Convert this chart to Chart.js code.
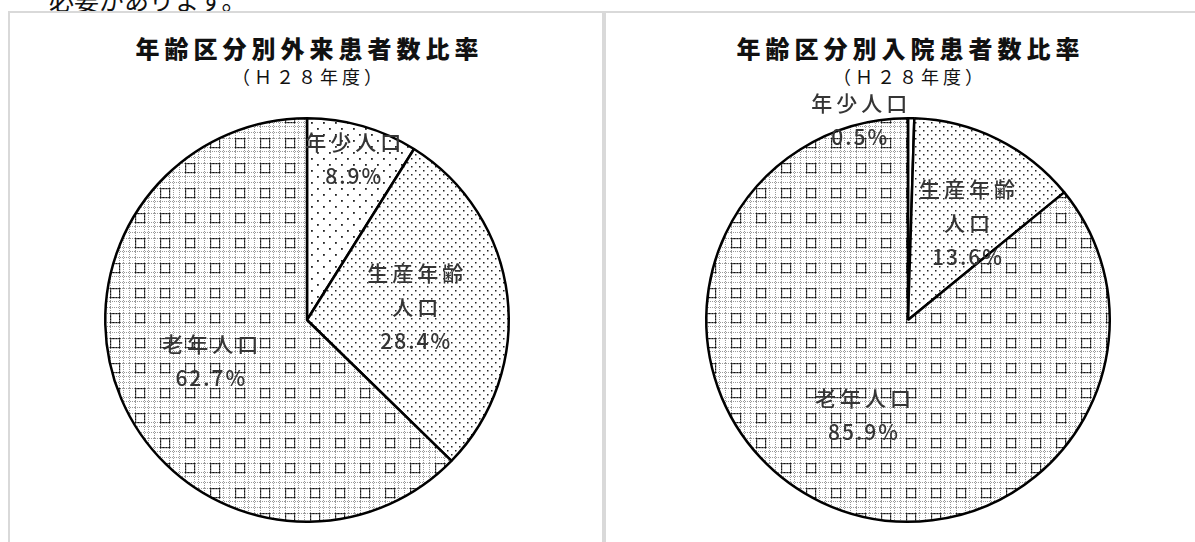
<!DOCTYPE html>
<html lang="ja">
<head>
<meta charset="utf-8">
<title>年齢区分別患者数比率</title>
<script src="https://cdn.jsdelivr.net/npm/chart.js@4.4.1/dist/chart.umd.min.js"></script>
<style>
  html, body { margin: 0; padding: 0; }
  body {
    width: 1195px; height: 542px; overflow: hidden; position: relative;
    background: #fff; font-family: "Noto Sans CJK JP", sans-serif; color: #111;
  }
  .lead { position: absolute; left: 49px; top: -13px; font-size: 25px; line-height: 25px; white-space: nowrap; }
  .panel { position: absolute; top: 11px; height: 545px; box-sizing: border-box; border: 2px solid #d9d9d9; border-bottom: none; }
  #panel-outpatient { left: 8px; width: 596px; }
  #panel-inpatient { left: 604px; width: 600px; }
  .chart-title {
    position: absolute; top: 35px; width: 600px; text-align: center; white-space: nowrap;
    font-size: 24px; font-weight: 900; line-height: 26px; letter-spacing: 5px; text-indent: 5px;
  }
  .chart-subtitle {
    position: absolute; top: 65px; width: 600px; text-align: center; white-space: nowrap;
    font-size: 18px; line-height: 22px; letter-spacing: 4px; text-indent: 4px;
  }
  canvas { position: absolute; top: 13px; }
</style>
</head>
<body>
<div class="lead">必要があります。</div>
<div class="panel" id="panel-outpatient"></div>
<div class="panel" id="panel-inpatient"></div>

<div class="chart-title" style="left:7px">年齢区分別外来患者数比率</div>
<div class="chart-subtitle" style="left:7px">（Ｈ２８年度）</div>
<canvas id="outpatient-chart" width="592" height="529" style="left:10px"></canvas>

<div class="chart-title" style="left:608px">年齢区分別入院患者数比率</div>
<div class="chart-subtitle" style="left:608px">（Ｈ２８年度）</div>
<canvas id="inpatient-chart" width="590" height="529" style="left:606px"></canvas>

<script>
// 年齢区分（年少・生産年齢・老年）ごとの患者数比率, H28年度
const ageGroups = ['年少人口', '生産年齢人口', '老年人口'];
const outpatientShares = [8.9, 28.4, 62.7];
const inpatientShares = [0.5, 13.6, 85.9];

document.addEventListener('DOMContentLoaded', () => {

    // monochrome hatch fills, one per age group
    const makePattern = (size, draw) => {
        const tile = document.createElement('canvas');
        tile.width = tile.height = size;
        const t = tile.getContext('2d');
        t.fillStyle = '#fff';
        t.fillRect(0, 0, size, size);
        draw(t);
        return t.createPattern(tile, 'repeat');
    };

    const sparseDots = makePattern(12, t => {
        t.fillStyle = '#222';
        t.fillRect(1, 1, 1.8, 1.8);
        t.fillRect(7, 7, 1.8, 1.8);
    });

    const denseDots = makePattern(8, t => {
        t.fillStyle = '#222';
        t.fillRect(1, 1, 1.5, 1.5);
        t.fillRect(5, 5, 1.5, 1.5);
    });

    // small dotted squares sitting on a lighter dotted grid
    const dottedGrid = makePattern(25, t => {
        t.fillStyle = '#9a9a9a';
        [0, 9, 13, 19].forEach(pos => {
            for (let i = 0; i < 25; i += 2) {
                t.fillRect(i, pos, 1, 1);
                t.fillRect(pos, i, 1, 1);
            }
        });
        t.fillStyle = '#111';
        for (let i = 0; i <= 9; i += 1.5) {
            t.fillRect(i, 0, 1.2, 1.2);
            t.fillRect(i, 9, 1.2, 1.2);
            t.fillRect(0, i, 1.2, 1.2);
            t.fillRect(9, i, 1.2, 1.2);
        }
    });

    const fills = [sparseDots, denseDots, dottedGrid];

    // writes the group name (4 chars per line) and its share inside / beside each slice
    const sliceLabels = (placement) => ({
        id: 'sliceLabels',
        afterDatasetsDraw(chart) {
            const ctx = chart.ctx;
            const meta = chart.getDatasetMeta(0);
            const values = chart.data.datasets[0].data;
            ctx.save();
            ctx.font = '500 21px "Noto Sans CJK JP"';
            ctx.fillStyle = '#353535';
            ctx.textAlign = 'center';
            ctx.textBaseline = 'middle';
            meta.data.forEach((arc, i) => {
                const { x, y, startAngle, endAngle, outerRadius } = arc.getProps(['x', 'y', 'startAngle', 'endAngle', 'outerRadius'], true);
                const mid = (startAngle + endAngle) / 2;
                const p = placement[i];
                const cx = x + Math.cos(mid) * outerRadius * p.radius + (p.dx || 0);
                const cy = y + Math.sin(mid) * outerRadius * p.radius + (p.dy || 0);
                const lines = chart.data.labels[i].match(/.{1,4}/g).concat(values[i].toFixed(1) + '%');
                lines.forEach((line, n) => {
                    const spacing = line.endsWith('%') ? 2 : 4;
                    ctx.letterSpacing = spacing + 'px';
                    ctx.fillText(line, cx + spacing / 2, cy + (n - (lines.length - 1) / 2) * 34);
                });
            });
            ctx.restore();
        }
    });

    const buildPie = (canvasId, shares, placement, padLeft) => new Chart(document.getElementById(canvasId), {
        type: 'pie',
        data: {
            labels: ageGroups,
            datasets: [{
                data: shares,
                backgroundColor: fills,
                borderColor: '#000',
                borderWidth: 2.5
            }]
        },
        options: {
            responsive: false,
            animation: false,
            events: [],
            layout: { padding: { top: 104, bottom: 19, left: padLeft, right: 0 } },
            plugins: { legend: { display: false }, tooltip: { enabled: false } }
        },
        plugins: [sliceLabels(placement)]
    });

    buildPie('outpatient-chart', outpatientShares, [
        { radius: 0.83 },
        { radius: 0.54 },
        { radius: 0.52 }
    ], 2);

    buildPie('inpatient-chart', inpatientShares, [
        { radius: 0.99, dx: -52 },
        { radius: 0.56, dx: 9, dy: 4 },
        { radius: 0.52 }
    ], 14);
});
</script>
</body>
</html>
